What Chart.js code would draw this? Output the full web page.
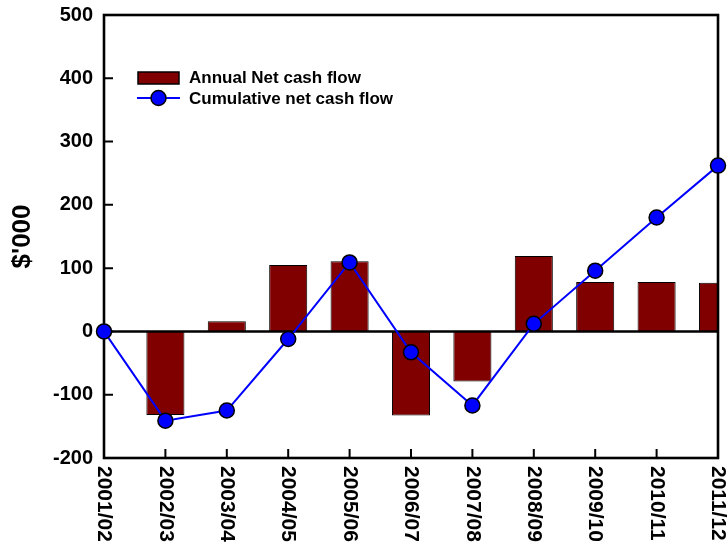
<!DOCTYPE html>
<html>
<head>
<meta charset="utf-8">
<script src="https://cdn.jsdelivr.net/npm/chart.js@4/dist/chart.umd.min.js"></script>
<style>
  html, body { margin: 0; padding: 0; background: #fff; }
  #wrap { width: 727px; height: 544px; }
</style>
</head>
<body>
<div id="wrap"><canvas id="chart"></canvas></div>
<script>
// data
const years = ["2001/02", "2002/03", "2003/04", "2004/05", "2005/06", "2006/07",
  "2007/08", "2008/09", "2009/10", "2010/11", "2011/12"]
const annualNet = [0, -132, 16, 105, 111, -133, -79, 119, 78, 78, 77]
const cumulative = [0, -141, -125, -12, 109, -33, -117, 12, 96, 180, 262]
const yTicks = [-200, -100, 0, 100, 200, 300, 400, 500]

const FONT = "'Liberation Sans', Arial, sans-serif"

// frame, zero line, inward ticks, rotated x labels and the legend
const framePlugin = {
  id: "frame",
  afterDatasetDraw(chart, args) {
    if (args.meta.type !== "bar") return
    const { ctx, chartArea: a, scales } = chart
    const y0 = scales.y.getPixelForValue(0)
    ctx.save()
    ctx.strokeStyle = "#000"
    ctx.lineWidth = 2.6
    ctx.beginPath()
    ctx.moveTo(a.left, y0)
    ctx.lineTo(a.right, y0)
    ctx.stroke()
    ctx.strokeRect(a.left, a.top, a.right - a.left, a.bottom - a.top)
    // inward ticks
    ctx.lineWidth = 2
    ctx.beginPath()
    yTicks.forEach((v) => {
      const y = scales.y.getPixelForValue(v)
      ctx.moveTo(a.left, y)
      ctx.lineTo(a.left + 9, y)
    })
    years.forEach((_, i) => {
      const x = scales.x.getPixelForValue(i)
      ctx.moveTo(x, a.bottom)
      ctx.lineTo(x, a.bottom - 9)
    })
    ctx.stroke()
    ctx.restore()
  },
  afterDraw(chart) {
    const { ctx, chartArea: a, scales } = chart
    ctx.save()
    ctx.fillStyle = "#000"
    ctx.font = "bold 21px " + FONT
    ctx.textAlign = "left"
    ctx.textBaseline = "middle"
    years.forEach((lab, i) => {
      const x = scales.x.getPixelForValue(i)
      ctx.save()
      ctx.translate(x, a.bottom + 8)
      ctx.rotate(Math.PI / 2)
      ctx.fillText(lab, 0, 0)
      ctx.restore()
    })

    // legend
    const ds = chart.data.datasets
    const barDs = ds.find((d) => d.type === "bar")
    const lineDs = ds.find((d) => d.type === "line")
    ctx.font = "bold 17px " + FONT
    ctx.fillStyle = barDs.backgroundColor
    ctx.fillRect(138, 72, 41, 12)
    ctx.strokeStyle = "#000"
    ctx.lineWidth = 1.5
    ctx.strokeRect(138, 72, 41, 12)
    ctx.fillStyle = "#000"
    ctx.fillText(barDs.label, 189, 78)

    ctx.strokeStyle = lineDs.borderColor
    ctx.lineWidth = 2
    ctx.beginPath()
    ctx.moveTo(137, 98)
    ctx.lineTo(180, 98)
    ctx.stroke()
    ctx.beginPath()
    ctx.arc(158.5, 98, 7.5, 0, Math.PI * 2)
    ctx.fillStyle = lineDs.pointBackgroundColor
    ctx.fill()
    ctx.strokeStyle = "#000"
    ctx.lineWidth = 1.5
    ctx.stroke()
    ctx.fillStyle = "#000"
    ctx.fillText(lineDs.label, 189, 99)
    ctx.restore()
  },
}

new Chart(document.getElementById("chart").getContext("2d"), {
  data: {
    labels: years,
    datasets: [
      {
        type: "line",
        label: "Cumulative net cash flow",
        data: cumulative,
        borderColor: "#0000ff",
        borderWidth: 2,
        pointRadius: 7.5,
        pointBackgroundColor: "#0000ff",
        pointBorderColor: "#000",
        pointBorderWidth: 1.5,
        tension: 0,
        clip: false,
        order: 0,
      },
      {
        type: "bar",
        label: "Annual Net cash flow",
        data: annualNet,
        backgroundColor: "#800000",
        borderColor: "#000",
        borderWidth: 1,
        barPercentage: 0.62,
        categoryPercentage: 1,
        order: 1,
      },
    ],
  },
  options: {
    responsive: true,
    maintainAspectRatio: false,
    animation: false,
    layout: { padding: { top: 15, right: 8, left: 0, bottom: 0 } },
    scales: {
      x: {
        offset: false,
        ticks: { display: false },
        grid: { display: false },
        border: { display: false },
        afterFit(scale) {
          scale.height = 86
        },
      },
      y: {
        min: yTicks[0],
        max: yTicks[yTicks.length - 1],
        ticks: {
          stepSize: 100,
          color: "#000",
          padding: 11,
          font: { family: FONT, size: 20, weight: "bold" },
        },
        grid: { display: false, drawTicks: false },
        border: { display: false },
        title: {
          display: true,
          text: "$'000",
          color: "#000",
          font: { family: FONT, size: 26, weight: "bold" },
          padding: { top: 7, bottom: 0 },
        },
        afterFit(scale) {
          scale.width = 104
          scale.paddingTop = 0
          scale.paddingBottom = 0
        },
      },
    },
    plugins: {
      legend: { display: false },
      tooltip: { enabled: false },
    },
  },
  plugins: [framePlugin],
})
</script>
</body>
</html>
